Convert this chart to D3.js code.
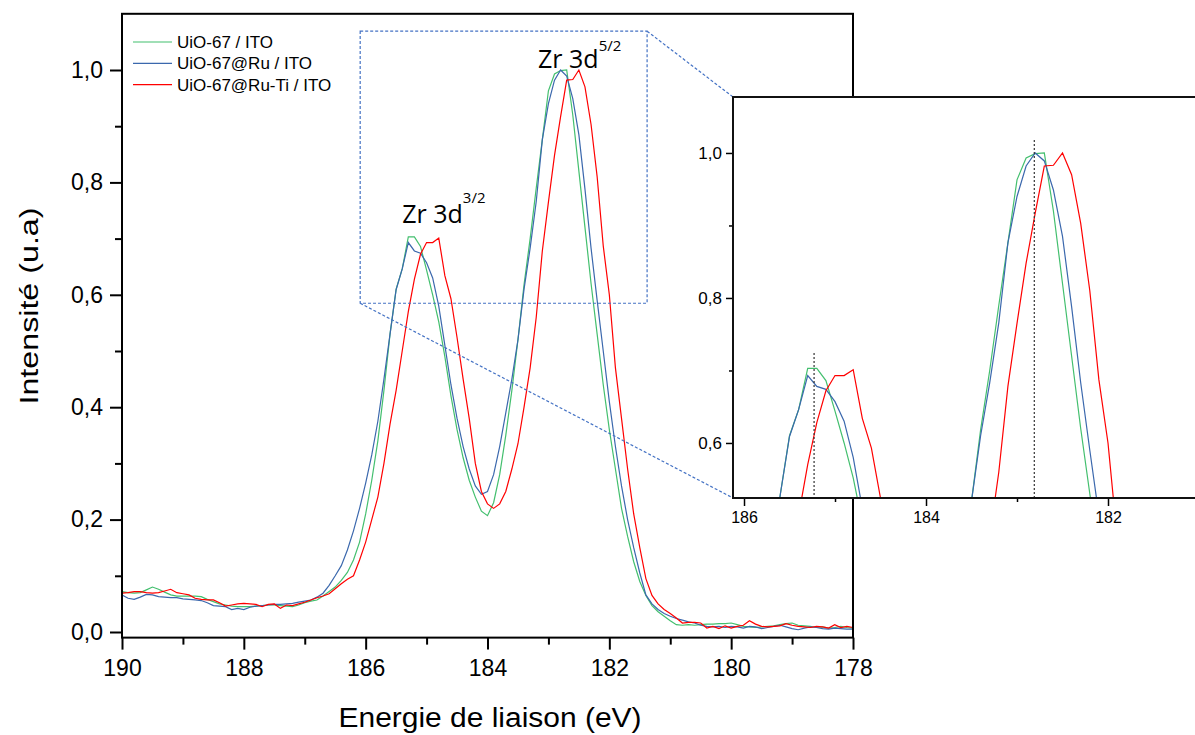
<!DOCTYPE html>
<html><head><meta charset="utf-8">
<script src="https://cdn.jsdelivr.net/npm/d3@7"></script>
<style>body{margin:0;background:#fff}svg{display:block}</style>
</head><body>
<svg id="c" width="1195" height="735"></svg>
<script>
const energy = [190.0,189.9,189.8,189.7,189.6,189.5,189.4,189.3,189.2,189.1,
189.0,188.9,188.8,188.7,188.6,188.5,188.4,188.3,188.2,188.1,
188.0,187.9,187.8,187.7,187.6,187.5,187.4,187.3,187.2,187.1,
187.0,186.9,186.8,186.7,186.6,186.5,186.4,186.3,186.2,186.1,
186.0,185.9,185.8,185.7,185.6,185.5,185.4,185.3,185.2,185.1,
185.0,184.9,184.8,184.7,184.6,184.5,184.4,184.3,184.2,184.1,
184.0,183.9,183.8,183.7,183.6,183.5,183.4,183.3,183.2,183.1,
183.0,182.9,182.8,182.7,182.6,182.5,182.4,182.3,182.2,182.1,
182.0,181.9,181.8,181.7,181.6,181.5,181.4,181.3,181.2,181.1,
181.0,180.9,180.8,180.7,180.6,180.5,180.4,180.3,180.2,180.1,
180.0,179.9,179.8,179.7,179.6,179.5,179.4,179.3,179.2,179.1,
179.0,178.9,178.8,178.7,178.6,178.5,178.4,178.3,178.2,178.1,178.0];

const uio67 = [.072,.070,.069,.070,.075,.080,.076,.071,.066,.064,
.064,.064,.064,.063,.058,.054,.050,.048,.046,.045,
.045,.045,.046,.047,.048,.048,.047,.046,.045,.048,
.052,.055,.057,.064,.072,.080,.092,.106,.128,.160,
.210,.270,.340,.430,.530,.610,.646,.703,.703,.686,
.644,.600,.552,.490,.420,.360,.310,.270,.240,.215,
.207,.230,.280,.350,.430,.520,.618,.700,.790,.876,
.963,.993,.999,1.000,.920,.820,.720,.620,.530,.440,
.360,.290,.220,.170,.125,.090,.065,.047,.036,.028,
.020,.013,.012,.013,.012,.013,.014,.014,.015,.015,
.016,.013,.010,.009,.008,.009,.010,.011,.013,.015,
.016,.012,.011,.010,.008,.009,.007,.008,.010,.008,.007];

const uio67Ru = [.066,.060,.058,.062,.067,.066,.063,.062,.061,.061,
.059,.058,.057,.056,.052,.047,.046,.045,.040,.042,
.040,.044,.046,.047,.048,.049,.049,.050,.051,.053,
.055,.057,.062,.069,.083,.100,.118,.146,.180,.220,
.265,.315,.375,.450,.530,.609,.646,.693,.678,.674,
.657,.630,.580,.510,.440,.380,.330,.290,.260,.245,
.250,.280,.330,.390,.450,.520,.610,.683,.766,.876,
.940,.982,1.000,.989,.949,.885,.788,.683,.590,.500,
.410,.330,.260,.200,.150,.105,.066,.050,.040,.033,
.028,.024,.021,.018,.016,.012,.010,.009,.010,.008,
.010,.009,.007,.010,.009,.006,.008,.010,.012,.009,
.006,.004,.007,.009,.008,.006,.005,.007,.006,.005,.005];

const uio67RuTi = [.069,.070,.072,.072,.070,.069,.070,.073,.076,.070,
.068,.066,.060,.058,.057,.057,.052,.046,.048,.050,
.051,.050,.049,.045,.049,.050,.042,.048,.047,.050,
.053,.057,.061,.064,.068,.077,.086,.094,.100,.128,
.160,.200,.240,.300,.370,.430,.500,.570,.628,.672,
.693,.693,.701,.634,.593,.524,.450,.380,.300,.250,
.228,.220,.228,.250,.290,.335,.400,.470,.560,.678,
.765,.848,.917,.982,.983,1.000,.970,.903,.810,.687,
.600,.470,.380,.290,.210,.150,.095,.065,.050,.040,
.033,.025,.016,.017,.017,.016,.007,.010,.006,.011,
.007,.010,.012,.020,.014,.010,.009,.010,.011,.015,
.012,.010,.009,.008,.010,.009,.007,.013,.008,.010,.008];

const seriesNames = ["UiO-67 / ITO", "UiO-67@Ru / ITO", "UiO-67@Ru-Ti / ITO"];
const seriesColors = ["#43bf6e", "#3b68ad", "#ff0000"];
const seriesValues = [uio67, uio67Ru, uio67RuTi];

const xMajorTicks = [190,188,186,184,182,180,178];
const xMinorTicks = [189,187,185,183,181,179];
const yMajorTicks = [0,0.2,0.4,0.6,0.8,1.0];
const yMinorTicks = [0.1,0.3,0.5,0.7,0.9];
const insetXMajor = [186,184,182];
const insetXMinor = [185,183];
const insetYMajor = [0.6,0.8,1.0];
const insetYMinor = [0.7,0.9];
const zoomBox = {x0:186.09, x1:181.38, y0:0.585, y1:1.069};
const peakMarks = [{x:185.23, y:0.724}, {x:182.81, y:1.018}];
const peakLabels = [{x:185.40, y:0.728, base:"Zr 3d", sup:"3/2", dy:-20},
                    {x:183.17, y:1.0036, base:"Zr 3d", sup:"5/2", dy:-17}];

const fmt = v => d3.format(".1f")(v).replace(".", ",");
const svg = d3.select("#c");
const FONT = "'Liberation Sans', Arial, sans-serif";

// main scales
const x = d3.scaleLinear().domain([190,178]).range([122,853]);
const y = d3.scaleLinear().domain([-0.01,1.1]).range([637.62,13.8]);

const data = seriesValues.map(vals => energy.map((e,i)=>({e, v: vals[i]})));

const line = d3.line().x(d=>x(d.e)).y(d=>y(d.v));
const gMain = svg.append("g");
data.forEach((d,i)=>{
  gMain.append("path").datum(d).attr("d", line)
    .attr("fill","none").attr("stroke",seriesColors[i]).attr("stroke-width",1.2);
});

function styleAxis(g, fs){
  g.selectAll(".domain").remove();
  g.selectAll(".tick line").attr("stroke","#000").attr("stroke-width",2);
  g.selectAll(".tick text").attr("font-family",FONT).attr("font-size",fs).attr("fill","#000");
}
// main axes
const gx = svg.append("g").attr("transform",`translate(0,${y.range()[0]})`)
  .call(d3.axisBottom(x).tickValues(xMajorTicks).tickSize(12).tickPadding(10).tickFormat(d3.format("d")));
styleAxis(gx, 23);
const gxm = svg.append("g").attr("transform",`translate(0,${y.range()[0]})`)
  .call(d3.axisBottom(x).tickValues(xMinorTicks).tickSize(7).tickFormat(""));
styleAxis(gxm, 23);
const gy = svg.append("g").attr("transform",`translate(${x.range()[0]},0)`)
  .call(d3.axisLeft(y).tickValues(yMajorTicks).tickSize(12).tickPadding(7).tickFormat(fmt));
styleAxis(gy, 23);
const gym = svg.append("g").attr("transform",`translate(${x.range()[0]},0)`)
  .call(d3.axisLeft(y).tickValues(yMinorTicks).tickSize(7).tickFormat(""));
styleAxis(gym, 23);

// frame
const [xl, xr] = x.range(); const [yb, yt] = y.range();
svg.append("rect").attr("x",xl).attr("y",yt).attr("width",xr-xl).attr("height",yb-yt)
  .attr("fill","none").attr("stroke","#000").attr("stroke-width",2);

// axis titles
svg.append("text").attr("x",490).attr("y",727).attr("text-anchor","middle")
  .attr("font-family",FONT).attr("font-size",27).attr("textLength",303).attr("lengthAdjust","spacingAndGlyphs")
  .text("Energie de liaison (eV)");
svg.append("text").attr("transform","translate(38,306) rotate(-90)").attr("text-anchor","middle")
  .attr("font-family",FONT).attr("font-size",26).attr("textLength",197).attr("lengthAdjust","spacingAndGlyphs")
  .text("Intensité (u.a)");

// legend
const lg = svg.append("g");
seriesNames.forEach((n,i)=>{
  const yy = 42 + i*21.3;
  lg.append("line").attr("x1",133).attr("x2",172).attr("y1",yy).attr("y2",yy)
    .attr("stroke",seriesColors[i]).attr("stroke-width",1.2);
  lg.append("text").attr("x",177).attr("y",yy).attr("dy","0.35em")
    .attr("font-family",FONT).attr("font-size",17).text(n);
});

// peak labels
peakLabels.forEach(p=>{
  const t = svg.append("text").attr("x",x(p.x)).attr("y",y(p.y))
    .attr("font-family","'Open Sans', 'Noto Sans', sans-serif").attr("font-size",25).attr("fill","#000");
  t.append("tspan").text(p.base);
  t.append("tspan").attr("dy",p.dy).attr("font-size",15).text(p.sup);
});

// inset
const xi = d3.scaleLinear().domain([186.121,181.044]).range([733,1195]);
const yi = d3.scaleLinear().domain([0.5241,1.0772]).range([498,97]);

// zoom box + connectors
const blueDash = "#4472c4";
svg.append("rect").attr("x",x(zoomBox.x0)).attr("y",y(zoomBox.y1))
  .attr("width",x(zoomBox.x1)-x(zoomBox.x0)).attr("height",y(zoomBox.y0)-y(zoomBox.y1))
  .attr("fill","none").attr("stroke",blueDash).attr("stroke-width",1.2).attr("stroke-dasharray","3,2");
svg.append("line").attr("x1",x(zoomBox.x1)).attr("y1",y(zoomBox.y1)).attr("x2",xi.range()[0]).attr("y2",yi.range()[1])
  .attr("stroke",blueDash).attr("stroke-width",1.2).attr("stroke-dasharray","3,2");
svg.append("line").attr("x1",x(zoomBox.x0)).attr("y1",y(zoomBox.y0)).attr("x2",xi.range()[0]).attr("y2",yi.range()[0])
  .attr("stroke",blueDash).attr("stroke-width",1.2).attr("stroke-dasharray","3,2");

const gi = svg.append("g");
gi.append("rect").attr("x",733).attr("y",97).attr("width",470).attr("height",401).attr("fill","#fff");
svg.append("defs").append("clipPath").attr("id","ic").append("rect")
  .attr("x",733).attr("y",97).attr("width",470).attr("height",401);
const lineI = d3.line().x(d=>xi(d.e)).y(d=>yi(d.v));
const gl = gi.append("g").attr("clip-path","url(#ic)");
data.forEach((d,i)=>{
  gl.append("path").datum(d).attr("d", lineI)
    .attr("fill","none").attr("stroke",seriesColors[i]).attr("stroke-width",1.2);
});
peakMarks.forEach(p=>{
  gl.append("line").attr("x1",xi(p.x)).attr("x2",xi(p.x)).attr("y1",yi(p.y)).attr("y2",yi.range()[0])
    .attr("stroke","#333").attr("stroke-width",1.2).attr("stroke-dasharray","2,2");
});
const gix = gi.append("g").attr("transform",`translate(0,498)`)
  .call(d3.axisBottom(xi).tickValues(insetXMajor).tickSize(8).tickPadding(6).tickFormat(d3.format("d")));
styleAxis(gix, 16); gix.selectAll(".tick line").attr("stroke-width",1.5);
const gixm = gi.append("g").attr("transform",`translate(0,498)`)
  .call(d3.axisBottom(xi).tickValues(insetXMinor).tickSize(4).tickFormat(""));
styleAxis(gixm, 16); gixm.selectAll(".tick line").attr("stroke-width",1.5);
const giy = gi.append("g").attr("transform",`translate(733,0)`)
  .call(d3.axisLeft(yi).tickValues(insetYMajor).tickSize(7).tickPadding(4).tickFormat(fmt));
styleAxis(giy, 17); giy.selectAll(".tick line").attr("stroke-width",1.5);
const giym = gi.append("g").attr("transform",`translate(733,0)`)
  .call(d3.axisLeft(yi).tickValues(insetYMinor).tickSize(4).tickFormat(""));
styleAxis(giym, 17); giym.selectAll(".tick line").attr("stroke-width",1.5);
gi.append("rect").attr("x",733).attr("y",97).attr("width",470).attr("height",401)
  .attr("fill","none").attr("stroke","#111").attr("stroke-width",2);
</script>
</body></html>
